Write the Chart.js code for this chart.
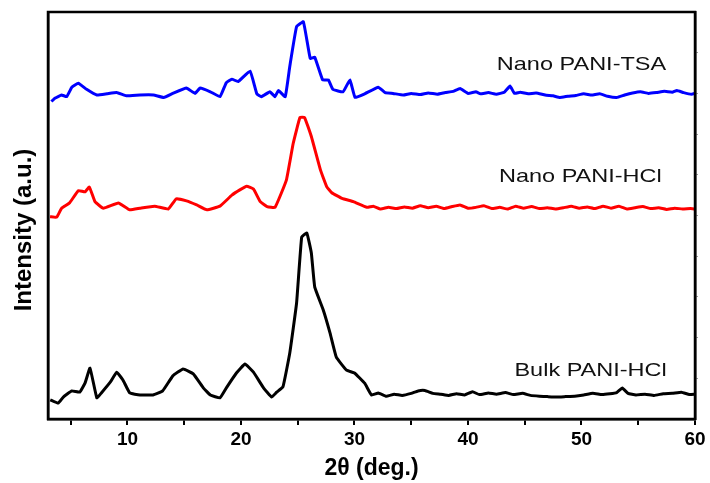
<!DOCTYPE html>
<html>
<head>
<meta charset="utf-8">
<script src="https://cdn.jsdelivr.net/npm/chart.js@4"></script>
<style>
  body { margin: 0; background: #fff; }
  canvas { display: block; }
</style>
</head>
<body>
<canvas id="xrd" width="710" height="483"></canvas>
<script>
// XRD patterns, intensities in arbitrary units (curves stacked by offset)
const seriesNames = ['Bulk PANI-HCl', 'Nano PANI-HCl', 'Nano PANI-TSA'];

const bulkTheta = [3.2, 3.9, 4.35, 5.1, 5.8, 6.26, 6.7, 7.3, 7.7, 8.5, 9.05, 9.6, 10.2, 11.1, 12.25, 13.1, 14.0, 14.9, 15.8, 16.7, 17.3, 18.15, 18.7, 19.6, 20.35, 21.1, 22.0, 22.7, 23.15, 23.7, 24.3, 24.9, 25.35, 25.8, 26.2, 26.5, 27.25, 27.85, 28.4, 29.3, 30.0, 30.9, 31.5,
  32.1, 32.8, 33.5, 34.2, 35.0, 35.6, 36.2, 36.9, 37.6, 38.3, 39.0, 39.7, 40.4, 41.0, 41.8, 42.5, 43.3, 44.0, 44.8, 45.5, 46.3, 47.0, 47.8, 48.6, 49.4, 50.2, 51.0, 51.8, 52.5, 53.1, 53.6, 54.1, 54.8, 55.6, 56.4, 57.2, 58.0, 58.8, 59.5, 60.0];
const bulkIntensity = [4.7, 3.9, 5.4, 6.9, 6.6, 8.8, 12.5, 5.2, 6.4, 9.1, 11.5, 9.6, 6.4, 5.9, 5.9, 6.9, 10.6, 12.3, 11.1, 7.6, 5.9, 5.2, 7.6, 11.3, 13.5, 11.5, 7.6, 5.4, 6.6, 7.9, 16.2, 28.5, 44.7, 45.7, 40.8, 32.4, 26.8, 21.1, 15.2, 12.0, 11.3, 8.8, 5.9,
  6.4, 5.6, 6.1, 5.8, 6.3, 6.9, 7.0, 6.3, 6.1, 5.8, 6.2, 5.9, 6.7, 6.0, 6.4, 6.1, 6.5, 6.0, 6.3, 5.8, 5.6, 5.5, 5.4, 5.5, 5.6, 5.9, 6.3, 6.0, 6.2, 6.5, 7.6, 6.3, 5.9, 6.1, 5.8, 6.2, 6.3, 6.6, 6.0, 6.1];

const hclTheta = [3.18, 3.77, 4.2, 4.9, 5.67, 6.26, 6.64, 7.14, 7.87, 9.2, 10.2, 11.1, 12.4, 13.6, 14.3, 15.2, 16.1, 17.0, 18.15, 19.2, 19.9, 20.5, 21.1, 21.7, 22.3, 23.0, 24.0, 24.6, 25.2, 25.6, 26.2, 27.0, 27.55, 28.0, 28.9, 29.9, 31.1, 31.65,
  32.3, 33.0, 33.7, 34.4, 35.1, 35.8, 36.5, 37.2, 37.9, 38.6, 39.3, 40.0, 40.7, 41.4, 42.1, 42.8, 43.5, 44.2, 44.9, 45.6, 46.3, 47.0, 47.7, 48.4, 49.1, 49.8, 50.5, 51.2, 51.9, 52.6, 53.3, 54.0, 54.7, 55.4, 56.1, 56.8, 57.5, 58.2, 58.9, 59.6, 60.0];
const hclIntensity = [49.7, 49.6, 51.8, 53.1, 56.1, 55.8, 57.0, 53.4, 51.8, 53.1, 51.4, 51.8, 52.3, 51.6, 54.1, 53.6, 52.6, 51.4, 52.3, 55.0, 56.3, 57.2, 56.5, 53.4, 52.2, 52.0, 58.7, 67.7, 74.1, 74.1, 69.4, 61.2, 57.1, 55.6, 54.2, 53.4, 52.0, 52.3,
  51.6, 52.0, 51.7, 52.1, 51.8, 52.4, 51.9, 52.3, 51.7, 52.2, 52.6, 51.8, 52.0, 52.4, 51.7, 52.0, 51.6, 52.3, 51.8, 52.2, 51.7, 51.9, 51.6, 51.9, 52.3, 51.8, 52.1, 51.7, 52.3, 51.8, 52.3, 51.6, 51.9, 52.2, 51.7, 51.9, 51.5, 51.8, 51.6, 51.7, 51.6];

const tsaTheta = [3.3, 3.6, 4.2, 4.65, 5.1, 5.67, 6.4, 7.3, 8.2, 9.05, 9.9, 11.1, 12.3, 13.2, 14.0, 15.2, 15.95, 16.4, 17.3, 18.15, 18.7, 19.2, 19.75, 20.8, 21.4, 21.8, 22.55, 23.0, 23.3, 23.9, 24.3, 24.9, 25.5, 26.1, 26.5, 27.2, 27.7, 28.1, 29.0, 29.6, 30.05, 30.9,
  32.1, 32.7, 33.4, 34.3, 35.0, 35.8, 36.5, 37.3, 38.0, 38.7, 39.3, 40.0, 40.7, 41.1, 41.8, 42.5, 43.2, 43.7, 44.1, 44.6, 45.3, 46.0, 46.8, 47.5, 48.1, 48.8, 49.5, 50.2, 50.9, 51.6, 52.3, 53.1, 53.8, 54.5, 55.2, 55.9, 56.6, 57.3, 58.0, 58.4, 59.0, 59.7, 60.0];
const tsaIntensity = [78.0, 78.8, 79.6, 79.2, 81.5, 82.5, 81.0, 79.6, 79.9, 80.2, 79.4, 79.6, 79.6, 79.0, 80.0, 81.3, 80.0, 81.3, 80.4, 79.2, 82.6, 83.5, 82.9, 85.5, 79.9, 79.2, 80.4, 79.2, 80.7, 79.2, 86.6, 96.4, 97.6, 88.6, 88.9, 83.3, 83.3, 81.0, 80.4, 83.3, 79.0, 79.9,
  81.5, 80.2, 80.0, 79.6, 80.0, 79.7, 80.1, 79.8, 80.2, 80.5, 81.2, 80.0, 80.4, 79.9, 80.2, 79.8, 80.3, 81.8, 80.0, 80.3, 79.9, 80.1, 79.6, 79.4, 79.0, 79.3, 79.5, 79.9, 79.6, 79.9, 79.3, 79.0, 79.6, 80.1, 80.4, 80.0, 80.2, 80.5, 80.3, 80.7, 80.2, 79.8, 80.0];

const xTicks = [5, 10, 15, 20, 25, 30, 35, 40, 45, 50, 55, 60];
const rightTicks = [10, 20, 30, 40, 50, 60, 70, 80, 90];

const FONT = "'Liberation Sans', Arial, sans-serif";

function toPoints(xs, ys) {
  return xs.map((x, i) => ({ x: x, y: ys[i] }));
}

// frame, curve names and the y title
const decorations = {
  id: 'decorations',
  afterDatasetsDraw(chart, args, opts) {
    const ctx = chart.ctx;
    const area = chart.chartArea;
    const xs = chart.scales.x, ys = chart.scales.y;
    ctx.save();
    ctx.strokeStyle = '#000';
    ctx.lineWidth = 2.5;
    ctx.strokeRect(area.left, area.top, area.right - area.left, area.bottom - area.top);

    ctx.fillStyle = '#111';
    ctx.font = '18.5px ' + FONT;
    ctx.textAlign = 'center';
    ctx.textBaseline = 'middle';
    opts.labels.forEach(l => {
      ctx.save();
      ctx.translate(xs.getPixelForValue(l.x), ys.getPixelForValue(l.y));
      ctx.scale(1.27, 1);
      ctx.fillText(l.text, 0, 0);
      ctx.restore();
    });

    ctx.fillStyle = '#000';
    ctx.font = 'bold 24px ' + FONT;
    ctx.translate(opts.yTitle.x, opts.yTitle.y);
    ctx.rotate(-Math.PI / 2);
    ctx.fillText(opts.yTitle.text, 0, 0);
    ctx.restore();
  }
};

new Chart(document.getElementById('xrd'), {
  type: 'line',
  data: {
    datasets: [
      { label: seriesNames[0], data: toPoints(bulkTheta, bulkIntensity), borderColor: '#000000' },
      { label: seriesNames[1], data: toPoints(hclTheta, hclIntensity), borderColor: '#ff0000' },
      { label: seriesNames[2], data: toPoints(tsaTheta, tsaIntensity), borderColor: '#0000ff' }
    ]
  },
  options: {
    responsive: false,
    animation: false,
    layout: { padding: { top: 12, right: 0, bottom: 0, left: 0 } },
    elements: {
      point: { radius: 0 },
      line: { borderWidth: 3, tension: 0.1, borderJoinStyle: 'round', fill: false }
    },
    plugins: {
      legend: { display: false },
      tooltip: { enabled: false },
      decorations: {
        labels: [
          { text: seriesNames[2], x: 50.0, y: 87.0 },
          { text: seriesNames[1], x: 49.9, y: 59.5 },
          { text: seriesNames[0], x: 50.8, y: 11.8 }
        ],
        yTitle: { text: 'Intensity (a.u.)', x: 24, y: 230 }
      }
    },
    scales: {
      x: {
        type: 'linear',
        min: 3,
        max: 60,
        afterBuildTicks: s => { s.ticks = xTicks.map(v => ({ value: v })); },
        afterFit: s => { s.height = 64; },
        border: { display: true, color: '#000', width: 2.5 },
        grid: { drawOnChartArea: false, drawTicks: true, tickLength: 6, color: '#000', lineWidth: 2 },
        ticks: {
          autoSkip: false,
          maxRotation: 0,
          padding: 3,
          color: '#000',
          font: { family: FONT, size: 19, weight: 'bold' },
          callback: v => (v % 10 === 0 ? v : '')
        },
        title: {
          display: true,
          text: '2θ (deg.)',
          color: '#000',
          font: { family: FONT, size: 23, weight: 'bold' },
          padding: { top: 0, bottom: 1 }
        }
      },
      y: {
        min: 0,
        max: 100,
        afterFit: s => { s.width = 48; },
        border: { display: true, color: '#000', width: 2.5 },
        grid: { display: false },
        ticks: { display: false }
      },
      y2: {
        position: 'right',
        min: 0,
        max: 100,
        afterBuildTicks: s => { s.ticks = rightTicks.map(v => ({ value: v })); },
        afterFit: s => { s.width = 15; },
        border: { display: true, color: '#000', width: 2.5 },
        grid: { drawOnChartArea: false, drawTicks: true, tickLength: 3, color: '#999', lineWidth: 1 },
        ticks: { display: false }
      }
    }
  },
  plugins: [decorations]
});
</script>
</body>
</html>
